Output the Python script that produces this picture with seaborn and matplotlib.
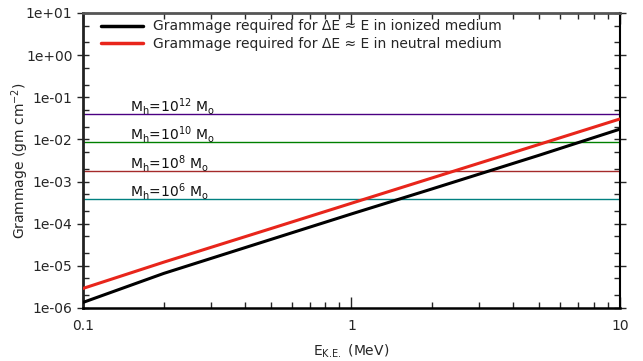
import numpy as np
import pandas as pd
import seaborn as sns
import matplotlib
matplotlib.use("Agg")
import matplotlib.pyplot as plt
from matplotlib.ticker import FuncFormatter, LogLocator, NullFormatter

# Kinetic energy (MeV) and required grammage (gm cm^-2)
energy = [0.1, 0.2, 0.5, 1, 2, 5, 10]
gram_ionized = [1.35e-6, 6.6e-6, 4.2e-5, 1.7e-4, 6.7e-4, 4.2e-3, 1.75e-2]
gram_neutral = [2.9e-6, 1.22e-5, 7.6e-5, 3.05e-4, 1.22e-3, 7.6e-3, 3.05e-2]

series_names = [
    "Grammage required for ΔE ≈ E in ionized medium",
    "Grammage required for ΔE ≈ E in neutral medium",
]
series_colors = ["black", "#e8251b"]

# Halo-mass reference grammage levels
halo_labels = [r"M$_\mathrm{h}$=10$^{12}$ M$_\mathrm{o}$",
               r"M$_\mathrm{h}$=10$^{10}$ M$_\mathrm{o}$",
               r"M$_\mathrm{h}$=10$^{8}$ M$_\mathrm{o}$",
               r"M$_\mathrm{h}$=10$^{6}$ M$_\mathrm{o}$"]
halo_levels = [0.040, 0.0087, 0.0018, 0.00039]
halo_colors = ["#4b0082", "#008000", "#a52a2a", "#008080"]

df = pd.DataFrame({
    "E": energy * 2,
    "G": gram_ionized + gram_neutral,
    "series": [series_names[0]] * len(energy) + [series_names[1]] * len(energy),
})

sns.set_style("white")
plt.rcParams["font.family"] = ["DejaVu Sans"]
plt.rcParams["mathtext.default"] = "regular"

fig = plt.figure(figsize=(6.43, 3.61), dpi=100)
ax = fig.add_axes([0.129, 0.147, 0.835, 0.817])

for lvl, col, lab in zip(halo_levels, halo_colors, halo_labels):
    ax.axhline(lvl, color=col, lw=1.0, zorder=1)
    ax.annotate(lab, xy=(0.15, lvl), xytext=(0, 1.5), textcoords="offset points",
                ha="left", va="baseline", fontsize=10, color="#111111")

sns.lineplot(data=df, x="E", y="G", hue="series", hue_order=series_names,
             palette=series_colors, lw=2.2, ax=ax, zorder=3)

ax.set_xscale("log")
ax.set_yscale("log")
ax.set_xlim(0.1, 10)
ax.set_ylim(1e-6, 10)

ax.set_xticks([0.1, 1, 10])
ax.xaxis.set_major_formatter(FuncFormatter(lambda v, p: f"{v:g}"))
ax.xaxis.set_minor_locator(LogLocator(base=10, subs=np.arange(2, 10)))
ax.xaxis.set_minor_formatter(NullFormatter())
ax.yaxis.set_major_locator(LogLocator(base=10, numticks=20))
ax.yaxis.set_major_formatter(FuncFormatter(lambda v, p: f"{v:.0e}"))
ax.yaxis.set_minor_locator(LogLocator(base=10, subs=[2, 5], numticks=20))
ax.yaxis.set_minor_formatter(NullFormatter())

ax.tick_params(axis="x", which="both", direction="in", top=True, bottom=True,
               labelsize=10, pad=8)
ax.tick_params(axis="x", which="major", length=8, width=1)
ax.tick_params(axis="x", which="minor", length=4, width=1)
ax.tick_params(axis="y", which="major", direction="inout", left=True, right=True,
               labelsize=10, length=8, width=1)
ax.tick_params(axis="y", which="minor", direction="in", left=True, right=True,
               length=4, width=1)

for side, col, w in [("left", "#222222", 2.0), ("bottom", "black", 1.8),
                     ("top", "#555555", 2.0), ("right", "black", 1.5)]:
    ax.spines[side].set_color(col)
    ax.spines[side].set_linewidth(w)
    ax.spines[side].set_visible(True)

ax.set_xlabel(r"E$_{K.\!E.}$ (MeV)", fontsize=10, labelpad=7)
ax.set_ylabel(r"Grammage (gm cm$^{-2}$)", fontsize=10, labelpad=-4)

leg = ax.legend(loc="upper left", bbox_to_anchor=(0.0335, 0.978), frameon=False,
                fontsize=10, handlelength=3.0, borderaxespad=0, borderpad=0,
                labelspacing=0.25, handletextpad=0.72)
for h in leg.get_lines():
    h.set_linewidth(2.5)

fig.savefig("out.png", dpi=100)
